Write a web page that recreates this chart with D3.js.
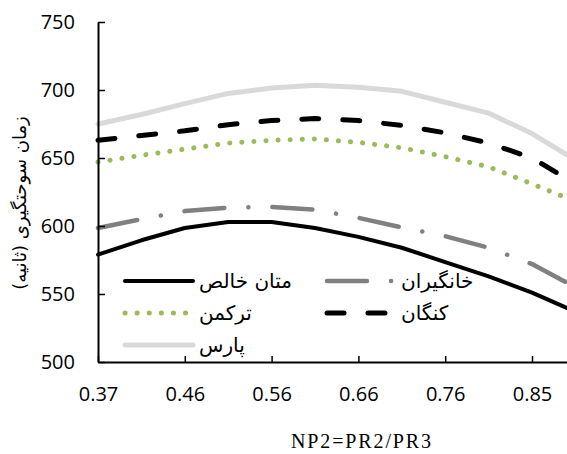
<!DOCTYPE html>
<html>
<head>
<meta charset="utf-8">
<script src="https://cdn.jsdelivr.net/npm/d3@7"></script>
<style>
  html, body { margin: 0; padding: 0; background: #fff; }
  svg { display: block; }
</style>
</head>
<body>
<svg id="chart" width="567" height="454"></svg>
<script>
// NP2 ratio categories (every other one is labelled on the axis)
const categories = ["0.37","0.41","0.46","0.51","0.56","0.61","0.66","0.71","0.76","0.80","0.85","0.90"];
const tickLabels = ["0.37","0.46","0.56","0.66","0.76","0.85"];
const yTicks = [500, 550, 600, 650, 700, 750];

// Ignition time (s) for each fuel
const pureMethane = [579, 589.5, 598.5, 603, 603, 598.5, 592, 584, 573.5, 563, 551, 537];
const khangiran   = [598.5, 605, 611, 613.5, 614, 612, 606, 599, 592.5, 584, 572, 555];
const torkaman    = [647, 652, 656.5, 661, 663, 664, 661.5, 657.5, 651, 643.5, 631, 618];
const kangan      = [663, 666.5, 670, 674.5, 677.5, 679, 677.5, 674, 668.5, 661, 650, 631];
const pars        = [675, 682, 690, 697.5, 701.5, 703.5, 702, 699, 691, 683, 668, 648.5];

const seriesNames = ["متان خالص", "خانگیران", "ترکمن", "کنگان", "پارس"];

const series = [
  { name: seriesNames[0], values: pureMethane, color: "#000000", width: 4,   dash: null },
  { name: seriesNames[1], values: khangiran,   color: "#808080", width: 4.5, dash: "40 24 0.1 24" },
  { name: seriesNames[2], values: torkaman,    color: "#9BBB59", width: 5,   dash: "0.1 12" },
  { name: seriesNames[3], values: kangan,      color: "#000000", width: 5,   dash: "17 24" },
  { name: seriesNames[4], values: pars,        color: "#D9D9D9", width: 5,   dash: null }
];

const svg = d3.select("#chart");
const plotLeft = 98, plotTop = 22, plotBottom = 362;
const step = 43.4;

const x = d3.scalePoint().domain(categories).range([plotLeft, plotLeft + step * (categories.length - 1)]);
const y = d3.scaleLinear().domain([500, 750]).range([plotBottom, plotTop]);

const numFont = "'Open Sans', 'DejaVu Sans', sans-serif";
const faFont = "'DejaVu Sans', 'Noto Sans', sans-serif";

// Lines (drawn first so the axes sit on top)
const line = d3.line().x((d, i) => x(categories[i])).y(d => y(d));
const plot = svg.append("g");
series.forEach(s => {
  plot.append("path")
    .datum(s.values)
    .attr("d", line)
    .attr("fill", "none")
    .attr("stroke", s.color)
    .attr("stroke-width", s.width)
    .attr("stroke-linecap", "round")
    .attr("stroke-linejoin", "round")
    .attr("stroke-dasharray", s.dash);
});

// Y axis
const yAxis = d3.axisLeft(y).tickValues(yTicks).tickSizeInner(-7).tickSizeOuter(0).tickPadding(23);
const gy = svg.append("g").attr("transform", `translate(${plotLeft},0)`).call(yAxis);
gy.select(".domain").attr("stroke", "#000").attr("stroke-width", 2);
gy.selectAll(".tick line").attr("stroke", "#000").attr("stroke-width", 1.5);
gy.selectAll(".tick text").attr("font-family", numFont).attr("font-size", 20).attr("fill", "#000");

// X axis
const xAxis = d3.axisBottom(x).tickValues(tickLabels).tickSizeInner(-6).tickSizeOuter(0).tickPadding(25);
const gx = svg.append("g").attr("transform", `translate(0,${plotBottom})`).call(xAxis);
gx.select(".domain").attr("stroke", "#000").attr("stroke-width", 2);
gx.selectAll(".tick line").attr("stroke", "#000").attr("stroke-width", 1.5);
gx.selectAll(".tick text").attr("font-family", numFont).attr("font-size", 20).attr("fill", "#000");

// Axis titles
svg.append("text")
  .attr("x", 361).attr("y", 448)
  .attr("text-anchor", "middle")
  .attr("font-family", "'Liberation Serif', 'Times New Roman', serif")
  .attr("font-size", 20)
  .attr("textLength", 140)
  .attr("lengthAdjust", "spacing")
  .attr("fill", "#000")
  .text("NP2=PR2/PR3");

svg.append("text")
  .attr("transform", "translate(26,203) rotate(-90)")
  .attr("text-anchor", "middle")
  .attr("direction", "rtl")
  .attr("font-family", faFont)
  .attr("font-size", 18)
  .attr("fill", "#000")
  .text("زمان سوحتگیری (ثانیه)");

// Legend: two columns, three rows
const legendPos = [
  { x: 123, y: 281 }, { x: 325, y: 281 },
  { x: 123, y: 313 }, { x: 325, y: 313 },
  { x: 123, y: 345 }
];
const legend = svg.append("g");
series.forEach((s, i) => {
  const p = legendPos[i];
  legend.append("line")
    .attr("x1", p.x + 2).attr("x2", p.x + 70)
    .attr("y1", p.y).attr("y2", p.y)
    .attr("stroke", s.color)
    .attr("stroke-width", s.width)
    .attr("stroke-linecap", "round")
    .attr("stroke-dasharray", s.dash);
  legend.append("text")
    .attr("x", p.x + 76).attr("y", p.y + 7)
    .attr("text-anchor", "start")
    .attr("font-family", faFont)
    .attr("font-size", 20)
    .attr("fill", "#000")
    .text(s.name);
});
</script>
</body>
</html>
